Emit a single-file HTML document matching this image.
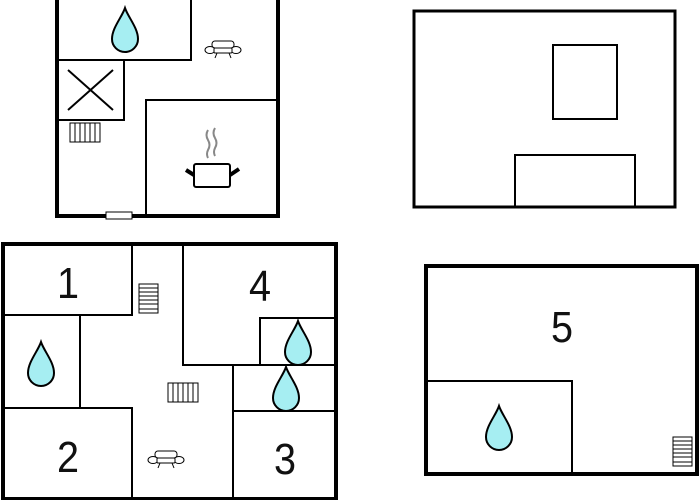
<!DOCTYPE html>
<html><head><style>body{margin:0;background:#fff}svg{display:block}</style></head>
<body>
<svg width="700" height="500" viewBox="0 0 700 500" xmlns="http://www.w3.org/2000/svg">
<defs>
<path id="drop" d="M0,0 C3,9 13,20 13,31 A13,13 0 0 1 -13,31 C-13,20 -3,9 0,0 Z" fill="#a6eef2" stroke="#000" stroke-width="2"/>
<g id="chair" fill="#fff" stroke="#000" stroke-width="1">
<rect x="-11" y="-9" width="22" height="7" rx="3"/>
<ellipse cx="-13" cy="0" rx="5" ry="3.5"/><ellipse cx="13" cy="0" rx="5" ry="3.5"/>
<rect x="-9" y="-2" width="18" height="5" rx="1"/>
<line x1="-6" y1="3" x2="-8" y2="8"/><line x1="6" y1="3" x2="8" y2="8"/>
</g>
<g id="stairs" fill="#fff" stroke="#000" stroke-width="1">
<rect x="0" y="0" width="19" height="29"/>
<line x1="0" y1="4" x2="19" y2="4"/><line x1="0" y1="8" x2="19" y2="8"/><line x1="0" y1="12" x2="19" y2="12"/><line x1="0" y1="16" x2="19" y2="16"/><line x1="0" y1="20" x2="19" y2="20"/><line x1="0" y1="25" x2="19" y2="25"/>
</g>
<g id="rad" fill="#fff" stroke="#000" stroke-width="1">
<rect x="0" y="0" width="30" height="19"/>
<line x1="5" y1="0" x2="5" y2="19"/><line x1="10" y1="0" x2="10" y2="19"/><line x1="15" y1="0" x2="15" y2="19"/><line x1="20" y1="0" x2="20" y2="19"/><line x1="25" y1="0" x2="25" y2="19"/>
</g>
</defs>

<g fill="none" stroke="#000" stroke-width="2">
<polyline points="57,0 57,60 191,60 191,0"/>
<rect x="58" y="60" width="66" height="60"/>
<line x1="68" y1="70" x2="113" y2="110"/><line x1="113" y1="70" x2="68" y2="110"/>
<polyline points="146,216 146,100 278,100"/>
</g>
<g fill="none" stroke="#000" stroke-width="4">
<polyline points="57,0 57,216 278,216 278,0"/>
</g>
<rect x="106" y="212" width="26" height="7" fill="#fff" stroke="#000" stroke-width="1"/>
<use href="#drop" x="125" y="8"/>
<use href="#chair" x="223" y="50"/>
<use href="#rad" x="70" y="123"/>
<g fill="none" stroke="#888" stroke-width="2"><path d="M208,130 q-3,5 0,10 q3,5 0,10 q-2,4 0,8"/><path d="M215,128 q-3,5 0,10 q3,5 0,10 q-2,4 0,8"/></g>
<rect x="194" y="164" width="36" height="23" rx="2" fill="#fff" stroke="#000" stroke-width="2"/>
<g stroke="#000" stroke-width="4"><line x1="186" y1="170" x2="194" y2="175"/><line x1="230" y1="175" x2="239" y2="169"/></g>

<rect x="414" y="11" width="261" height="196" fill="none" stroke="#000" stroke-width="3"/>
<rect x="553" y="45" width="64" height="74" fill="none" stroke="#000" stroke-width="2"/>
<rect x="515" y="155" width="120" height="52" fill="none" stroke="#000" stroke-width="2"/>

<g fill="none" stroke="#000" stroke-width="2">
<polyline points="2,315 132,315 132,244"/>
<line x1="80" y1="315" x2="80" y2="408"/>
<polyline points="2,408 132,408 132,498"/>
<polyline points="183,244 183,365 336,365"/>
<polyline points="260,365 260,318 336,318"/>
<polyline points="233,498 233,365"/>
<line x1="233" y1="411" x2="336" y2="411"/>
</g>
<rect x="3" y="244" width="333" height="255" fill="none" stroke="#000" stroke-width="4"/>
<g font-family="Liberation Sans, sans-serif" font-size="44" text-anchor="middle" fill="#111">
<text x="68" y="298" transform="translate(68 0) scale(0.9 1) translate(-68 0)">1</text>
<text x="68" y="472" transform="translate(68 0) scale(0.9 1) translate(-68 0)">2</text>
<text x="285" y="474" transform="translate(285 0) scale(0.9 1) translate(-285 0)">3</text>
<text x="260" y="301" transform="translate(260 0) scale(0.9 1) translate(-260 0)">4</text>
<text x="562" y="342" transform="translate(562 0) scale(0.9 1) translate(-562 0)">5</text>
</g>
<use href="#drop" x="41" y="342"/>
<use href="#drop" x="298" y="321"/>
<use href="#drop" x="286" y="367"/>
<use href="#stairs" x="139" y="284"/>
<use href="#rad" x="168" y="383"/>
<use href="#chair" x="166" y="460"/>

<rect x="426" y="266" width="271" height="208" fill="none" stroke="#000" stroke-width="4"/>
<polyline points="426,381 572,381 572,474" fill="none" stroke="#000" stroke-width="2"/>
<use href="#drop" x="499" y="406"/>
<use href="#stairs" x="673" y="437"/>
</svg>
</body></html>
